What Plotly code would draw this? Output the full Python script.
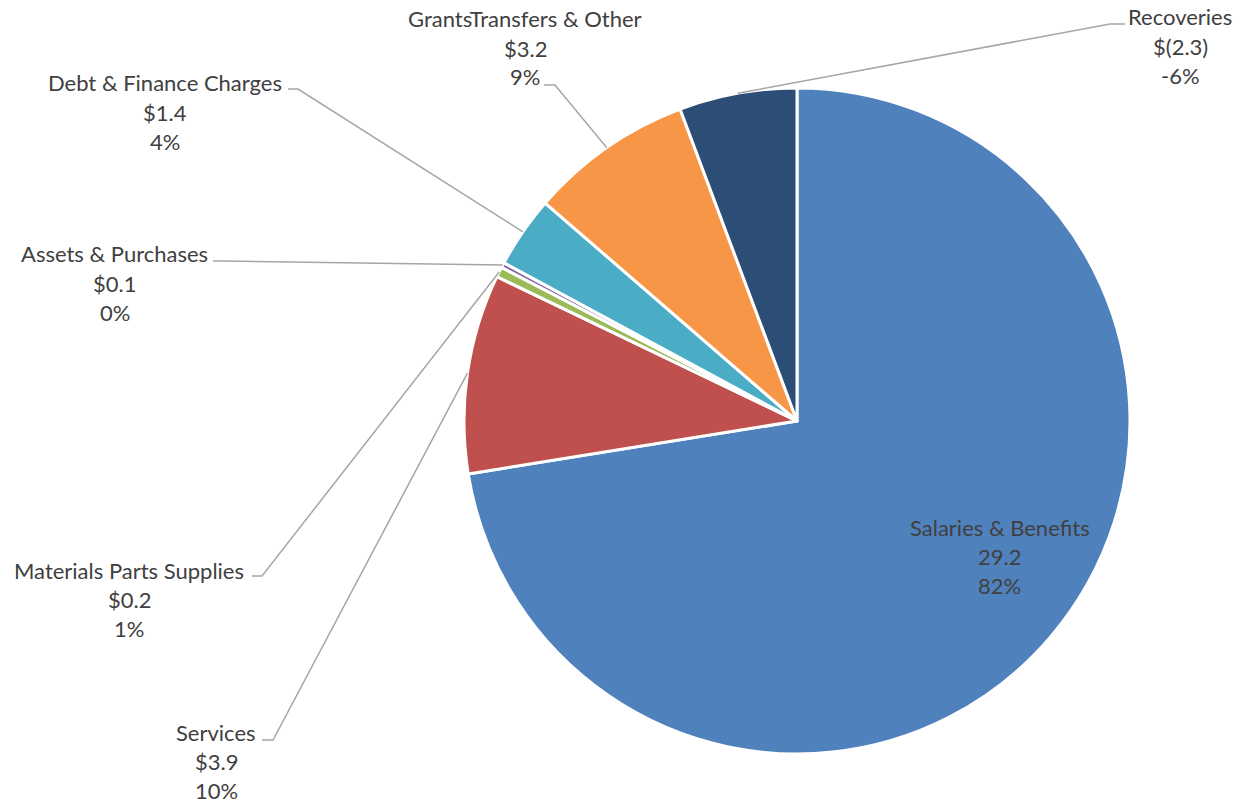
import math
import plotly.graph_objects as go

# ---- data ----
categories = ["Salaries & Benefits", "Services", "Materials Parts Supplies",
              "Assets & Purchases", "Debt & Finance Charges",
              "GrantsTransfers & Other", "Recoveries"]
values = [29.2, 3.9, 0.2, 0.1, 1.4, 3.2, 2.3]
value_labels = ["29.2", "$3.9", "$0.2", "$0.1", "$1.4", "$3.2", "$(2.3)"]
pct_labels = ["82%", "10%", "1%", "0%", "4%", "9%", "-6%"]
colors = ["#4F81BD", "#C0504D", "#9BBB59", "#8064A2", "#4BACC6", "#F79646", "#2C4D75"]

W, H = 1238, 803
CX, CY, R = 797, 421, 333


def px(x):
    return x / W


def py(y):
    return 1 - y / H


fig = go.Figure(go.Pie(
    labels=categories, values=values, sort=False, direction="clockwise",
    rotation=0, marker=dict(colors=colors, line=dict(color="white", width=3)),
    textinfo="none", hoverinfo="label+value", showlegend=False,
    domain=dict(x=[px(CX - R), px(CX + R)], y=[py(CY + R), py(CY - R)]),
))

# label layout: (center x, first line y, leader start x, leader elbow x, leader y) in pixels
label_layout = [
    (1000, 527, None, None, None),
    (216, 732, 262, 273, 740),
    (129, 570, 252, 262, 576),
    (115, 254, 213, 223, 261),
    (165, 83, 288, 298, 89),
    (525, 19, 544, 555, 85),
    (1180, 17, 1125, 1110, 24),
]
LINE_H = 29.0
FONT = dict(family="Lato, Carlito, Calibri, sans-serif", size=22, color="#404040")

annotations = []
shapes = []
total = sum(values)
cum = 0.0
for i, cat in enumerate(categories):
    v = values[i]
    mid = (cum + v / 2) / total * 2 * math.pi
    cum += v
    ex = CX + R * math.sin(mid)
    ey = CY - R * math.cos(mid)
    lx, ly, sx, bx, sy = label_layout[i]
    for k, t in enumerate([cat, value_labels[i], pct_labels[i]]):
        annotations.append(dict(
            x=px(lx), y=py(ly + k * LINE_H), xref="paper", yref="paper",
            text=t, showarrow=False, xanchor="center", yanchor="middle",
            font=FONT, borderpad=0))
    if sx is not None:
        path = "M {},{} L {},{} L {},{}".format(
            px(sx), py(sy), px(bx), py(sy), px(ex), py(ey))
        shapes.append(dict(type="path", path=path, xref="paper", yref="paper",
                           line=dict(color="#A6A6A6", width=1.5)))

fig.update_layout(
    width=W, height=H, margin=dict(l=0, r=0, t=0, b=0),
    paper_bgcolor="white", plot_bgcolor="white",
    annotations=annotations, shapes=shapes,
)

fig.write_html("out.html")
